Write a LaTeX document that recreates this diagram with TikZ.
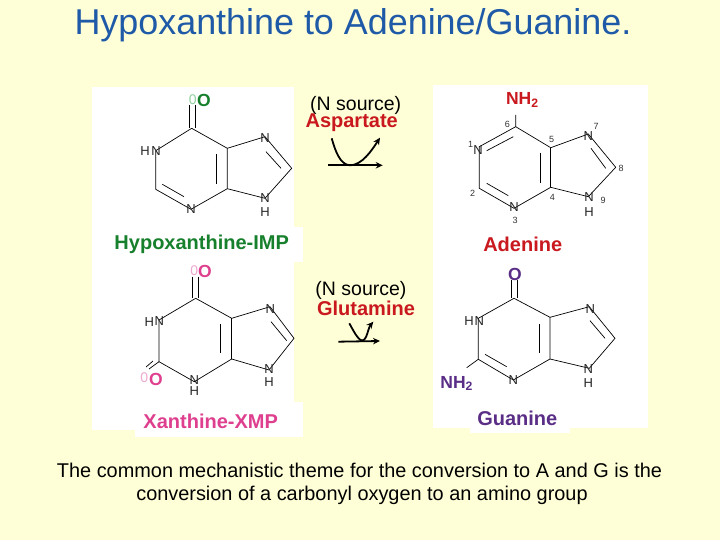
\documentclass[tikz,border=0pt]{standalone}
\usepackage{fontspec}
\setmainfont{Liberation Sans}
\usetikzlibrary{arrows.meta}
\definecolor{bgy}{HTML}{FFFFD7}
\definecolor{ttl}{HTML}{1F5AA8}
\definecolor{grn}{HTML}{16802C}
\definecolor{lgrn}{HTML}{8FCF9F}
\definecolor{redd}{HTML}{C9181E}
\definecolor{pnk}{HTML}{DE3F8E}
\definecolor{lpnk}{HTML}{EFA8CF}
\definecolor{prp}{HTML}{5A2D86}
\tikzset{
 panel/.style={fill=white,draw=none},
 txt/.style={inner sep=0pt,outer sep=0pt,font=\fontsize{#1}{#1}\selectfont},
 atom/.style={txt=13,text=black!85},
 num/.style={txt=9,text=black!80},
 lab/.style={inner sep=0pt,outer sep=0pt,font=\fontsize{20}{20}\selectfont\bfseries},
 oxy/.style={inner sep=0pt,outer sep=0pt,font=\fontsize{17.5}{18}\selectfont\bfseries},
 zero/.style={inner sep=0pt,outer sep=0pt,font=\fontsize{14}{14}\selectfont},
 bond/.style={line width=0.7pt,black},
 heavy/.style={line width=1.5pt,black},
 flow/.style={line width=1.8pt,black,-{Stealth[length=7pt,width=6.5pt]}},
}
\begin{document}
\begin{tikzpicture}[x=1pt,y=-1pt]
\fill[bgy] (0,0) rectangle (720,540);
\useasboundingbox (0,0) rectangle (720,540);
% panels
\fill[panel] (92,87) rectangle (294,430);
\fill[panel] (100,227) rectangle (303,262);
\fill[panel] (135,402) rectangle (303,437);
\fill[panel] (433,85) rectangle (648,428);
\fill[panel] (470,405) rectangle (570,433);
% title
\node[txt=35.9,text=ttl] (title) at (353,25) {Hypoxanthine to Adenine/Guanine.};
\node[txt=19.9] (cap1) at (359.5,470) {The common mechanistic theme for the conversion to A and G is the};
\node[txt=19.9] (cap2) at (362,495) {conversion of a carbonyl oxygen to an amino group};
% === Hypoxanthine
\coordinate (ac6) at (191.7,128.3); \coordinate (an1) at (155.7,150.7);
\coordinate (ac2) at (155.7,189.3); \coordinate (an3) at (191,209.3);
\coordinate (ac4) at (227.3,188.7); \coordinate (ac5) at (227.3,148.3);
\coordinate (an7) at (265,136.7); \coordinate (ac8) at (291.7,168.3);
\coordinate (an9) at (265,198.3);
\coordinate (aoa) at (189.3,105); \coordinate (aob) at (189.3,128);
\coordinate (aoc) at (195.3,105); \coordinate (aod) at (195.3,128);
\draw[bond] (ac6)--(an1)--(ac2)--(an3)--(ac4)--(ac5)--(ac6);
\draw[bond] (ac5)--(an7)--(ac8)--(an9)--(ac4);
\draw[bond] (aoa)--(aob); \draw[bond] (aoc)--(aod);
\draw[bond] (216.7,154)--(216.7,184);
\draw[bond] (162.3,184.3)--(184,196.7);
\draw[bond] (266,151.7)--(281,168.3);
\node[atom] (ah1) at (145,151) {H};
\node[atom] (aN1) at (156,151) {N};
\node[atom] (aN3) at (191,209.5) {N};
\node[atom] (aN7) at (265,138.5) {N};
\node[atom] (aN9) at (265,198.5) {N};
\node[atom] (ah9) at (265,212.5) {H};
\node[zero,text=lgrn] (az) at (192.7,99.3) {0};
\node[oxy,text=grn] (aO) at (204,100) {O};
\node[lab,text=grn] (aname) at (201.7,244) {Hypoxanthine-IMP};
% === Adenine
\coordinate (bc6) at (515.7,126.7); \coordinate (bn1) at (479.3,146.7);
\coordinate (bc2) at (479.3,188.3); \coordinate (bn3) at (514,208.3);
\coordinate (bc4) at (550.7,187.3); \coordinate (bc5) at (550.7,147.7);
\coordinate (bn7) at (588.3,134); \coordinate (bc8) at (615.7,167.3);
\coordinate (bn9) at (588.3,196.7); \coordinate (bs) at (515.7,115);
\draw[bond] (bs)--(bc6)--(bn1)--(bc2)--(bn3)--(bc4);
\draw[bond] (bc5)--(bc6);
\draw[heavy] (bc4)--(bc5);
\draw[bond] (bc5)--(bn7)--(bc8)--(bn9)--(bc4);
\draw[bond] (540.7,152.7)--(540.7,182.7);
\draw[bond] (486.7,150.7)--(513.3,136.7);
\draw[bond] (486.7,183.3)--(508.3,195.7);
\draw[bond] (591,148.3)--(605.7,168.3);
\node[atom] (bN1) at (478,150) {N};
\node[atom] (bN3) at (514,207.5) {N};
\node[atom] (bN7) at (588.3,136.5) {N};
\node[atom] (bN9) at (589,197.5) {N};
\node[atom] (bh9) at (589,212.5) {H};
\node[num] (b6) at (507.3,124) {6};
\node[num] (b5) at (551.7,139.3) {5};
\node[num] (b7) at (596,126) {7};
\node[num] (b1) at (470.7,144.3) {1};
\node[num] (b8) at (621,168.3) {8};
\node[num] (b2) at (472.7,193.3) {2};
\node[num] (b4) at (552.3,197.7) {4};
\node[num] (b9) at (603,200.7) {9};
\node[num] (b3) at (515,220) {3};
\node[oxy,text=redd] (bNH) at (522.3,100) {NH\textsubscript{2}};
\node[lab,text=redd] (bname) at (522.7,244) {Adenine};
% === Xanthine
\coordinate (cc6) at (195.7,298.3); \coordinate (cn1) at (159,320);
\coordinate (cc2) at (159,361.7); \coordinate (cn3) at (194.3,381.7);
\coordinate (cc4) at (231.7,359); \coordinate (cc5) at (231.7,318.3);
\coordinate (cn7) at (270,306.7); \coordinate (cc8) at (294,338.3);
\coordinate (cn9) at (269,370);
\draw[bond] (cc6)--(cn1)--(cc2)--(cn3)--(cc4);
\draw[heavy] (cc4)--(cc5);
\draw[bond] (cc5)--(cc6);
\draw[bond] (cc5)--(cn7)--(cc8)--(cn9)--(cc4);
\draw[bond] (192.7,276.7)--(192.7,298.3);
\draw[bond] (198.7,276.7)--(198.7,298.3);
\draw[bond] (220.7,324.3)--(220.7,353.3);
\draw[bond] (271,321.7)--(286.7,340.7);
\draw[bond] (cc2)--(149,369);
\draw[bond] (153,361)--(146,367);
\node[atom] (ch1) at (149.3,322.5) {H};
\node[atom] (cN1) at (159.3,321) {N};
\node[atom] (cN3) at (194.3,380) {N};
\node[atom] (ch3) at (194.3,391) {H};
\node[atom] (cN7) at (270.3,309) {N};
\node[atom] (cN9) at (269,369.5) {N};
\node[atom] (ch9) at (269,382.5) {H};
\node[zero,text=lpnk] (cz) at (194.3,270.7) {0};
\node[oxy,text=pnk] (cO) at (205,271.7) {O};
\node[zero,text=lpnk] (cz2) at (144.3,377.3) {0};
\node[oxy,text=pnk] (cO2) at (156,379) {O};
\node[lab,text=pnk] (cname) at (210.7,421.7) {Xanthine-XMP};
% === Guanine
\coordinate (dc6) at (514,298.3); \coordinate (dn1) at (478.3,318.3);
\coordinate (dc2) at (478.3,359.3); \coordinate (dn3) at (513.3,380);
\coordinate (dc4) at (550,359); \coordinate (dc5) at (550,317.3);
\coordinate (dn7) at (589.3,306.7); \coordinate (dc8) at (615,338.3);
\coordinate (dn9) at (589.3,368.3); \coordinate (ds) at (466.7,367.7);
\draw[bond] (dc6)--(dn1)--(dc2)--(dn3)--(dc4)--(dc5)--(dc6);
\draw[bond] (dc5)--(dn7)--(dc8)--(dn9)--(dc4);
\draw[bond] (dc2)--(ds);
\draw[bond] (511.7,280)--(511.7,298.3);
\draw[bond] (517.7,280)--(517.7,298.3);
\draw[bond] (539.3,324)--(539.3,353.3);
\draw[bond] (485,354.3)--(506.7,366.7);
\draw[bond] (590,320.7)--(605,338.3);
\node[atom] (dh1) at (469,321) {H};
\node[atom] (dN1) at (479.3,321) {N};
\node[atom] (dN3) at (513.3,380) {N};
\node[atom] (dN7) at (590.3,309.3) {N};
\node[atom] (dN9) at (588.3,369) {N};
\node[atom] (dh9) at (588.3,383.3) {H};
\node[oxy,text=prp] (dO) at (515,274.3) {O};
\node[oxy,text=prp] (dNH) at (456.7,383.3) {NH\textsubscript{2}};
\node[lab,text=prp] (dname) at (517.3,418.3) {Guanine};
% === middle
\node[txt=19.5] (src1) at (355.7,105) {(N source)};
\node[lab,text=redd] (asp) at (351.7,122.5) {Aspartate};
\node[txt=19.5] (src2) at (361,290) {(N source)};
\node[lab,text=redd] (glu) at (366,308.5) {Glutamine};
\coordinate (e1) at (328.3,165.3); \coordinate (e2) at (382.7,165.3);
\coordinate (e3) at (331.7,138.3); \coordinate (e4) at (380,137.7);
\draw[flow] (e1)--(e2);
\draw[flow] (e3) .. controls (335,150) and (340,165) .. (350,165.3) .. controls (362,165.3) and (372,150) .. (e4);
\coordinate (f1) at (338.3,341.7); \coordinate (f2) at (380,341);
\coordinate (f3) at (349.3,323.3); \coordinate (f4) at (373.3,321.7);
\draw[flow] (f1)--(f2);
\draw[flow] (f3) .. controls (353,330) and (358,340) .. (362,340.5) .. controls (367,340.5) and (368,328) .. (f4);
\end{tikzpicture}
\end{document}
